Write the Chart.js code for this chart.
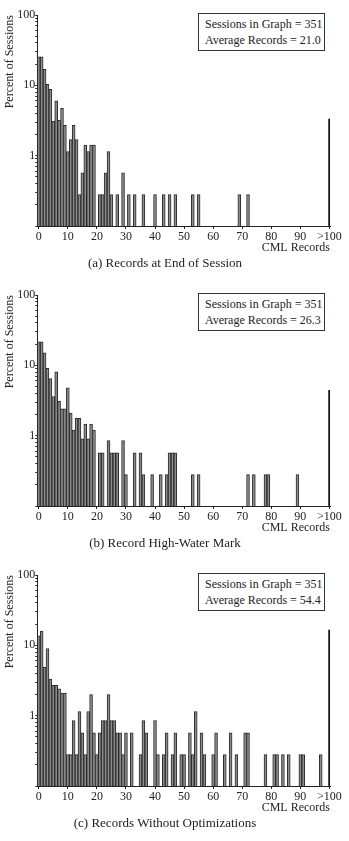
<!DOCTYPE html>
<html>
<head>
<meta charset="utf-8">
<title>CML Records per Session</title>
<script src="https://cdn.jsdelivr.net/npm/chart.js@4"></script>
<style>
    body { margin: 0; background: #fff; }
    .panel { position: relative; width: 349px; height: 280px; }
    .panel canvas { position: absolute; left: 0; top: 0; }
    .stats {
        position: absolute; left: 198px; top: 13px;
        width: 127px; height: 38px; box-sizing: border-box;
        border: 1px solid #333; padding: 2px 0 0 6px;
        font: 12px/16px "Liberation Serif", "Times New Roman", serif;
        color: #222; white-space: nowrap; background: #fff;
    }
</style>
</head>
<body>
<div class="panel"><canvas id="chart-a" width="349" height="280"></canvas><div class="stats" id="stats-a"></div></div>
<div class="panel"><canvas id="chart-b" width="349" height="280"></canvas><div class="stats" id="stats-b"></div></div>
<div class="panel"><canvas id="chart-c" width="349" height="280"></canvas><div class="stats" id="stats-c"></div></div>

<script>
// Axis ticks
const xTicks = [0, 10, 20, 30, 40, 50, 60, 70, 80, 90, 100];
const xTickLabels = ['0', '10', '20', '30', '40', '50', '60', '70', '80', '90', '>100'];
const yLabelValues = [1, 10, 100];

// (a) Records at End of Session
const recordsA = [0, 1, 2, 3, 4, 5, 6, 7, 8, 9, 10, 11, 12, 13, 14, 15, 16, 17, 18, 19,
    21, 22, 23, 24, 25, 27, 29, 31, 33, 36, 40, 43, 45, 47, 53, 55, 69, 72];
const percentA = [25.5, 25.5, 16.9, 10.3, 8.8, 3.1, 6.0, 3.2, 4.7, 2.7, 1.14, 1.7, 2.7, 1.7, 0.28, 0.57, 1.42, 1.14, 1.42, 1.42,
    0.28, 0.28, 0.57, 1.14, 0.28, 0.28, 0.57, 0.28, 0.28, 0.28, 0.28, 0.28, 0.28, 0.28, 0.28, 0.28, 0.28, 0.28];
const over100A = 3.3;

// (b) Record High-Water Mark
const recordsB = [0, 1, 2, 3, 4, 5, 6, 7, 8, 9, 10, 11, 12, 13, 14, 15, 16, 17, 18, 19,
    21, 22, 24, 25, 26, 27, 29, 30, 33, 35, 36, 39, 42, 44, 45, 46, 47, 53, 55, 72, 74, 78, 79, 89];
const percentB = [21.5, 21.5, 15.1, 9.1, 6.5, 3.6, 8.1, 3.1, 2.4, 2.4, 4.8, 2.1, 1.2, 1.76, 1.76, 0.9, 1.46, 0.9, 1.46, 1.2,
    0.57, 0.57, 0.85, 0.57, 0.57, 0.57, 0.85, 0.28, 0.57, 0.57, 0.28, 0.28, 0.28, 0.28, 0.57, 0.57, 0.57, 0.28, 0.28, 0.28, 0.28, 0.28, 0.28, 0.28];
const over100B = 4.4;

// (c) Records Without Optimizations
const recordsC = [0, 1, 2, 3, 4, 5, 6, 7, 8, 9, 10, 11, 12, 13, 14, 15, 16, 17, 18, 19, 20, 21, 22, 23, 24, 25, 26, 27, 28, 29, 30,
    32, 35, 36, 37, 40, 41, 43, 44, 46, 47, 49, 50, 52, 53, 54, 56, 57, 60, 61, 64, 66, 68, 71, 72, 78, 81, 82, 84, 86, 90, 91, 97];
const percentC = [13.7, 16.0, 4.9, 9.0, 3.3, 2.7, 2.7, 2.4, 2.1, 2.1, 0.28, 0.28, 0.85, 0.28, 1.14, 0.57, 0.28, 1.14, 2.0, 0.57, 0.28,
    0.57, 0.85, 0.85, 2.0, 0.85, 0.85, 0.57, 0.57, 0.28, 0.57,
    0.57, 0.28, 0.85, 0.57, 0.85, 0.28, 0.28, 0.57, 0.28, 0.57, 0.28, 0.28, 0.57, 0.28, 1.14, 0.57, 0.28, 0.28, 0.57, 0.28, 0.57, 0.28,
    0.57, 0.57, 0.28, 0.28, 0.28, 0.28, 0.28, 0.28, 0.28, 0.28];
const over100C = 16.5;

const sessionsInGraph = [351, 351, 351];
const averageRecords = ['21.0', '26.3', '54.4'];
const captions = ['(a) Records at End of Session', '(b) Record High-Water Mark', '(c) Records Without Optimizations'];

const FONT = '"Liberation Serif", "Times New Roman", serif';
const INK = '#222';

Chart.defaults.font.family = FONT;
Chart.defaults.color = INK;

// Log tick positions: 1..9 per decade, labels only on the decades
function logTickValues() {
    const vals = [];
    [0.1, 1, 10].forEach(function(d) {
        for (let m = 1; m < 10; m++) vals.push(m * d);
    });
    vals.push(100);
    return vals;
}

function createPanel(canvasId, statsId, records, percents, over100, idx) {
    const ctx = document.getElementById(canvasId).getContext('2d');

    document.getElementById(statsId).innerHTML =
        'Sessions in Graph = ' + sessionsInGraph[idx] + '<br>Average Records = ' + averageRecords[idx];

    const bars = records.map(function(r, i) { return { x: r, y: percents[i] }; });

    new Chart(ctx, {
        type: 'bar',
        data: {
            datasets: [
                {
                    data: bars,
                    backgroundColor: '#8c8c8c',
                    borderColor: '#2a2a2a',
                    borderWidth: 1,
                    barPercentage: 1,
                    categoryPercentage: 1,
                    grouped: false
                },
                {
                    data: [{ x: 100, y: over100 }],
                    backgroundColor: '#111',
                    borderWidth: 0,
                    barThickness: 1.6,
                    grouped: false
                }
            ]
        },
        options: {
            responsive: false,
            animation: false,
            devicePixelRatio: 1,
            layout: { padding: { left: 0, right: 19, top: 15, bottom: 0 } },
            plugins: {
                legend: { display: false },
                tooltip: { enabled: false },
                title: {
                    display: true,
                    position: 'bottom',
                    text: captions[idx],
                    color: INK,
                    font: { family: FONT, size: 13, weight: 'normal' },
                    padding: { top: 0, bottom: 9 }
                }
            },
            scales: {
                x: {
                    type: 'linear',
                    offset: false,
                    min: -0.5,
                    max: 100.2,
                    afterBuildTicks: function(s) {
                        s.ticks = xTicks.map(function(v) { return { value: v }; });
                    },
                    afterFit: function(s) { s.height = 29.4; },
                    ticks: {
                        autoSkip: false,
                        maxRotation: 0,
                        padding: 1,
                        color: INK,
                        font: { size: 12 },
                        callback: function(v, i) { return xTickLabels[i]; }
                    },
                    grid: { display: true, offset: false, drawOnChartArea: false, drawTicks: true, tickLength: 3, color: INK },
                    border: { display: true, color: INK, width: 1 },
                    title: {
                        display: true,
                        text: 'CML Records',
                        align: 'end',
                        color: INK,
                        font: { size: 12 },
                        padding: { top: 0, bottom: 0 }
                    }
                },
                y: {
                    type: 'logarithmic',
                    min: 0.1,
                    max: 100,
                    afterBuildTicks: function(s) {
                        s.ticks = logTickValues().map(function(v) { return { value: v }; });
                    },
                    afterFit: function(s) { s.width = 37.3; },
                    ticks: {
                        autoSkip: false,
                        padding: 0,
                        color: INK,
                        font: { size: 12 },
                        callback: function(v) {
                            const hit = yLabelValues.find(function(l) { return Math.abs(l - v) < 1e-9 * l; });
                            return hit !== undefined ? String(hit) : '';
                        }
                    },
                    grid: { display: true, drawOnChartArea: false, drawTicks: true, tickLength: 2, color: INK },
                    border: { display: true, color: INK, width: 1 },
                    title: {
                        display: true,
                        text: 'Percent of Sessions',
                        align: 'end',
                        color: INK,
                        font: { size: 12 },
                        padding: { top: 3, bottom: 0 }
                    }
                }
            }
        }
    });
}

createPanel('chart-a', 'stats-a', recordsA, percentA, over100A, 0);
createPanel('chart-b', 'stats-b', recordsB, percentB, over100B, 1);
createPanel('chart-c', 'stats-c', recordsC, percentC, over100C, 2);
</script>
</body>
</html>
